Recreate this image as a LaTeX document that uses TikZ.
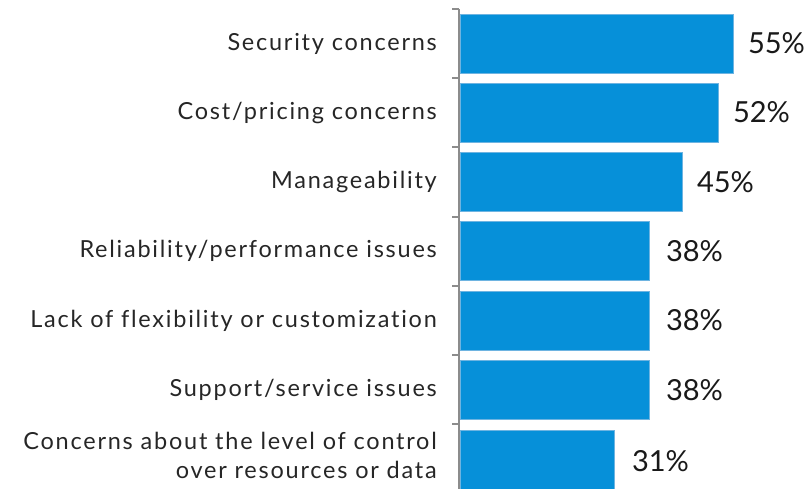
\documentclass[tikz,border=0pt]{standalone}
\usepackage{fontspec}
\setmainfont{Lato}
\newfontfamily\catfont[LetterSpace=7.5,Ligatures=NoCommon]{Lato}
\definecolor{barblue}{RGB}{6,144,217}
\definecolor{baredge}{RGB}{110,180,225}
\definecolor{axisgray}{RGB}{140,140,140}
\begin{document}
\begin{tikzpicture}[x=1pt,y=-1pt,
  bar/.style={rectangle,fill=barblue,draw=baredge,line width=0.8pt,inner sep=0pt,minimum height=59pt,anchor=west},
  cat/.style={anchor=east,font=\catfont\fontsize{23.5}{29}\selectfont,text=black!85,inner sep=0pt,align=right},
  val/.style={anchor=west,font=\fontsize{29}{34}\selectfont,text=black!90,inner sep=0pt},
  axisline/.style={draw=axisgray,line width=2.6pt},
  tickline/.style={draw=axisgray,line width=2pt}]
\useasboundingbox (0,0) rectangle (808,489);
% bars
\node[bar,minimum width=273pt] (b1) at (460,43.5) {};
\node[bar,minimum width=258pt] (b2) at (460,112.5) {};
\node[bar,minimum width=222pt] (b3) at (460,182) {};
\node[bar,minimum width=189pt] (b4) at (460,251) {};
\node[bar,minimum width=189pt] (b5) at (460,320.5) {};
\node[bar,minimum width=189pt] (b6) at (460,390) {};
\node[bar,minimum width=154pt] (b7) at (460,459.5) {};
% axis
\coordinate (atop) at (459,9);
\coordinate (abot) at (459,489);
\draw[axisline] (atop) -- (abot);
\foreach \y [count=\i] in {9,78,147.5,217,286,355,424}{
  \coordinate (t\i) at (452,\y);
  \coordinate (u\i) at (459,\y);
  \draw[tickline] (t\i) -- (u\i);
}
% category labels
\node[cat] (c1) at (437,43.5) {Security concerns};
\node[cat] (c2) at (437,112.5) {Cost/pricing concerns};
\node[cat] (c3) at (437,182) {Manageability};
\node[cat] (c4) at (437,251) {Reliability/performance issues};
\node[cat] (c5) at (437,320.5) {Lack of flexibility or customization};
\node[cat] (c6) at (437,390) {Support/service issues};
\node[cat] (c7) at (437,455.5) {Concerns about the level of control\\over resources or data};
% value labels
\node[val] (v1) at ([xshift=14pt]b1.east) {55\%};
\node[val] (v2) at ([xshift=14pt]b2.east) {52\%};
\node[val] (v3) at ([xshift=14pt]b3.east) {45\%};
\node[val] (v4) at ([xshift=16pt]b4.east) {38\%};
\node[val] (v5) at ([xshift=16pt]b5.east) {38\%};
\node[val] (v6) at ([xshift=16pt]b6.east) {38\%};
\node[val] (v7) at ([xshift=17pt,yshift=-2pt]b7.east) {31\%};
\end{tikzpicture}
\end{document}
